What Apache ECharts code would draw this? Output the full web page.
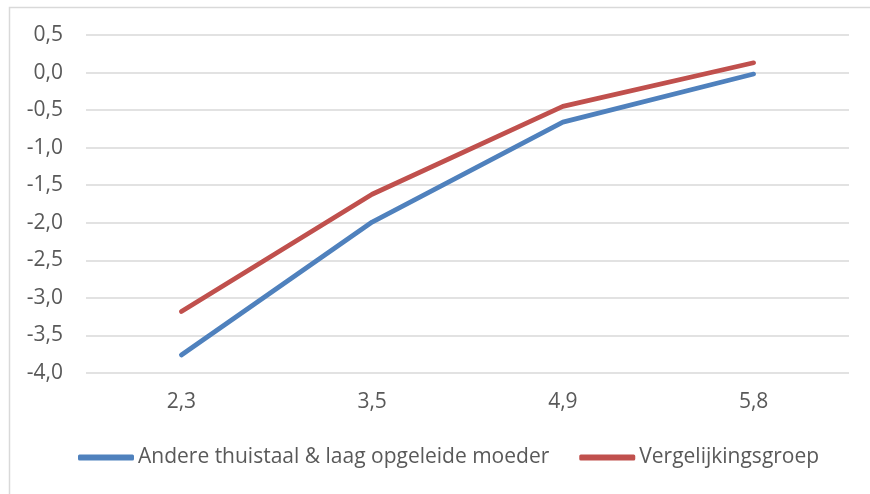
<!DOCTYPE html>
<html>
<head>
<meta charset="utf-8">
<script src="https://cdn.jsdelivr.net/npm/echarts@6/dist/echarts.min.js"></script>
<style>html,body{margin:0;padding:0;background:#fff}#c{width:870px;height:494px}</style>
</head>
<body>
<div id="c"></div>
<script>
const categories = ['2,3', '3,5', '4,9', '5,8'];
const seriesNames = ['Andere thuistaal & laag opgeleide moeder', 'Vergelijkingsgroep'];
const blueValues = [-3.76, -1.99, -0.66, -0.02];
const redValues = [-3.18, -1.62, -0.45, 0.13];

const chart = echarts.init(document.getElementById('c'));
const font = '"Open Sans", sans-serif';
chart.setOption({
  animation: false,
  graphic: [{
    type: 'rect', left: 7, top: 5,
    shape: { width: 880, height: 500 },
    style: { fill: 'none', stroke: '#d9d9d9', lineWidth: 1.5 }
  }],
  grid: { left: 86, right: 21, top: 35, bottom: 121 },
  legend: {
    top: 447, left: 78, padding: 0,
    itemWidth: 56, itemHeight: 6, itemGap: 30,
    icon: 'roundRect',
    textStyle: { fontFamily: font, fontSize: 21, color: '#595959', padding: [0, 0, 0, -1] },
    data: seriesNames
  },
  xAxis: {
    type: 'category', data: categories, boundaryGap: true,
    axisLine: { show: false }, axisTick: { show: false },
    axisLabel: { fontFamily: font, fontSize: 21, color: '#595959', margin: 19 }
  },
  yAxis: {
    type: 'value', min: -4, max: 0.5, interval: 0.5,
    axisLine: { show: false }, axisTick: { show: false },
    axisLabel: { fontFamily: font, fontSize: 21, color: '#595959', margin: 23,
      formatter: v => v.toFixed(1).replace('.', ',') },
    splitLine: { lineStyle: { color: '#d9d9d9', width: 1.5 } }
  },
  series: [
    { name: seriesNames[0], type: 'line', data: blueValues, symbol: 'none',
      lineStyle: { color: '#4F81BD', width: 4.75, cap: 'round', join: 'round' }, itemStyle: { color: '#4F81BD' } },
    { name: seriesNames[1], type: 'line', data: redValues, symbol: 'none',
      lineStyle: { color: '#C0504D', width: 4.75, cap: 'round', join: 'round' }, itemStyle: { color: '#C0504D' } }
  ]
});
</script>
</body>
</html>
